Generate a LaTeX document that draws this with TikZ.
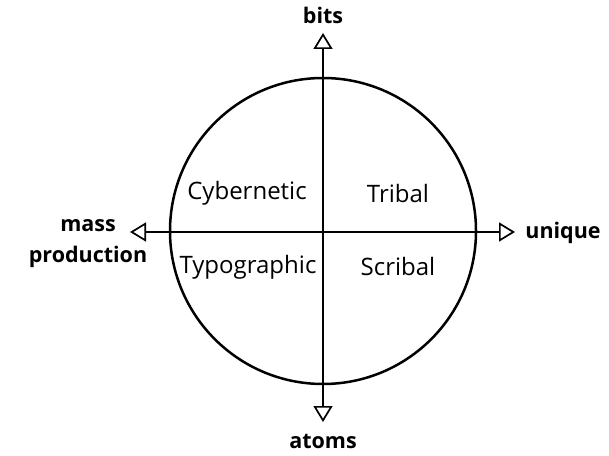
\documentclass[tikz,border=0pt]{standalone}
\usepackage{fontspec}
\setmainfont{Open Sans}
\usetikzlibrary{arrows.meta}

\tikzset{
  quadlabel/.style={font=\fontsize{24}{28}\selectfont},
  axislabel/.style={font=\fontsize{21.5}{31}\selectfont\bfseries,align=center},
  axisline/.style={line width=2.6pt,{Triangle[open,length=16pt,width=19pt,line width=1.7pt]}-{Triangle[open,length=16pt,width=19pt,line width=1.7pt]}}
}

\begin{document}
\begin{tikzpicture}[x=1pt,y=1pt]
\useasboundingbox (0,0) rectangle (609,455);
\node[circle,draw,line width=2.5pt,minimum size=306pt,inner sep=0pt] (disk) at (323,224) {};
% axis ends
\coordinate (west) at (130,223);
\coordinate (east) at (515,223);
\coordinate (north) at (323,422);
\coordinate (south) at (323,33);
\draw[axisline] (west) -- (east);
\draw[axisline] (south) -- (north);
% axis labels
\node[axislabel] (bits) at (323,440) {bits};
\node[axislabel] (atoms) at (323,14) {atoms};
\node[axislabel] (mass) at (88,211) {mass\\production};
\node[axislabel] (unique) at (563,222) {unique};
% quadrants
\node[quadlabel] (cyber) at (247,262) {Cybernetic};
\node[quadlabel] (tribal) at (398,261) {Tribal};
\node[quadlabel] (typo) at (248,188) {Typographic};
\node[quadlabel] (scribal) at (398,188) {Scribal};
\end{tikzpicture}
\end{document}
